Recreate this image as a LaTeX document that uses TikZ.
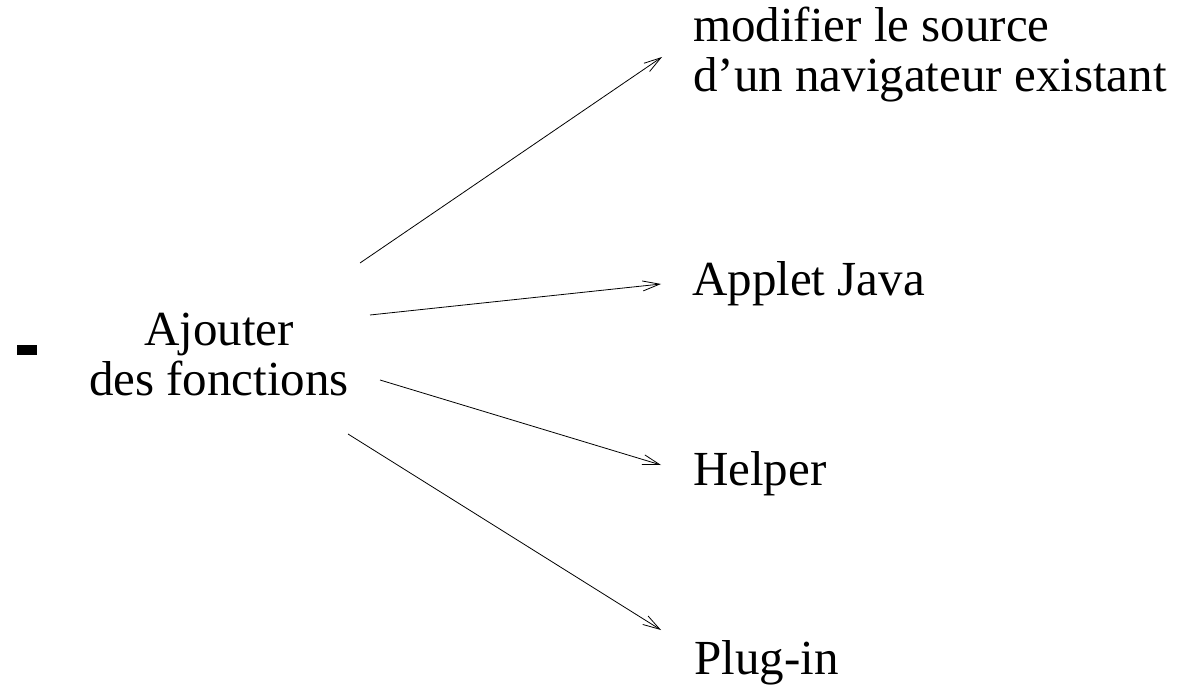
\documentclass[tikz,border=0pt]{standalone}
\usepackage{fontspec}
\setmainfont{Liberation Serif}
\usetikzlibrary{arrows.meta}

\begin{document}
\begin{tikzpicture}[x=1pt,y=-1pt,
    texte/.style={font=\fontsize{49}{50}\selectfont, inner sep=0pt},
    fleche/.style={line width=0.8pt, -{Straight Barb[length=17pt,width=10pt,line width=0.8pt]}}]
    \useasboundingbox (0,0) rectangle (1181,690);
    \fill (17,345) rectangle (37,355);
    \node[texte, align=center, anchor=base] (ajout) at (219,395) {Ajouter\\des fonctions};
    \node[texte, align=left, anchor=base west] (source) at (693,92) {modifier le source\\d'un navigateur existant};
    \node[texte, anchor=base west] (applet) at (692,295) {Applet Java};
    \node[texte, anchor=base west] (helper) at (693,485) {Helper};
    \node[texte, anchor=base west] (plugin) at (694,674) {Plug-in};
    \coordinate (a1) at (360,263);
    \coordinate (a2) at (370,315);
    \coordinate (a3) at (380,380);
    \coordinate (a4) at (348,434);
    \coordinate (b1) at (662,57);
    \coordinate (b2) at (661,284);
    \coordinate (b3) at (661,465);
    \coordinate (b4) at (661,630);
    \draw[fleche] (a1) -- (b1);
    \draw[fleche] (a2) -- (b2);
    \draw[fleche] (a3) -- (b3);
    \draw[fleche] (a4) -- (b4);
\end{tikzpicture}
\end{document}
